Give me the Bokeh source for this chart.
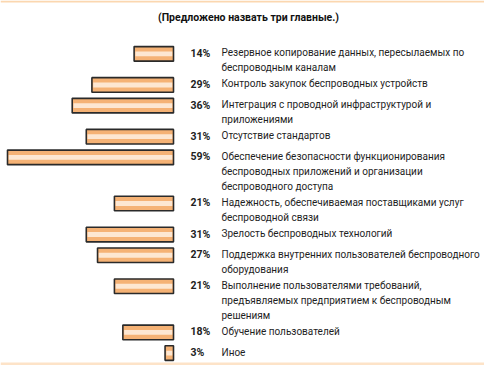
from bokeh.plotting import figure
from bokeh.models import Range1d, Label, ColumnDataSource, BoxAnnotation
from bokeh.core.properties import value
from bokeh.embed import file_html
from bokeh.resources import INLINE

title_text = "(Предложено назвать три главные.)"
labels = [
    "Резервное копирование данных, пересылаемых по\nбеспроводным каналам",
    "Контроль закупок беспроводных устройств",
    "Интеграция с проводной инфраструктурой и\nприложениями",
    "Отсутствие стандартов",
    "Обеспечение безопасности функционирования\nбеспроводных приложений и организации\nбеспроводного доступа",
    "Надежность, обеспечиваемая поставщиками услуг\nбеспроводной связи",
    "Зрелость беспроводных технологий",
    "Поддержка внутренних пользователей беспроводного\nоборудования",
    "Выполнение пользователями требований,\nпредъявляемых предприятием к беспроводным\nрешениям",
    "Обучение пользователей",
    "Иное",
]
values = [14, 29, 36, 31, 59, 21, 31, 27, 21, 18, 3]

W, H = 484, 365
FONT = "Roboto"
Y_SPAN = 376                      # layout units covered by the figure height
ROW_STEP = {1: 21.3, 2: 32.0, 3: 47.5}
BAR_END_PX = 173                  # screen x of the bars' common right edge
PX_PER_PCT = 166 / 59

# row layout
ys = []
y = 55.0
for lab in labels:
    ys.append(y)
    y += ROW_STEP[lab.count("\n") + 1]

src = ColumnDataSource(dict(
    y=ys,
    left=[-v for v in values],
    right=[0] * len(values),
    ileft=[-v + 0.45 for v in values],
    iright=[-0.45] * len(values),
    pct=[f"{v}%" for v in values],
    label=labels,
    zero=[0] * len(values),
))

p = figure(width=W, height=H, output_backend="svg", toolbar_location=None,
           x_range=Range1d(-BAR_END_PX / PX_PER_PCT, (W - BAR_END_PX) / PX_PER_PCT),
           y_range=Range1d(Y_SPAN, 0),
           min_border=0, outline_line_color=None)
p.axis.visible = False
p.grid.visible = False
p.background_fill_color = "white"
p.border_fill_color = "white"

# decorative top/bottom bands
p.add_layout(BoxAnnotation(top=0, bottom=2, fill_color="#fbd7b0", fill_alpha=1, line_color=None))
p.add_layout(BoxAnnotation(top=Y_SPAN - 3, bottom=Y_SPAN, fill_color="#fde3c8", fill_alpha=1, line_color=None))

p.hbar(y="y", left="left", right="right", height=15, source=src,
       fill_color="#f5b275", line_color="#2a2a2a", line_width=1.6)
p.hbar(y="y", left="ileft", right="iright", height=5, source=src,
       fill_color="#fde7d2", line_color=None)

p.text(x="zero", y="y", text="pct", source=src, x_offset=17, y_offset=-7,
       text_font=value(FONT), text_font_size="10.5px", text_font_style="bold",
       text_color="#222222", text_align="left", text_baseline="top")
p.text(x="zero", y="y", text="label", source=src, x_offset=48, y_offset=-6.5,
       text_font=value(FONT), text_font_size="10px", text_line_height=1.36,
       text_color="#1e1e1e", text_align="left", text_baseline="top")

p.add_layout(Label(x=248, y=18, x_units="screen", y_units="data", text=title_text,
                   text_font=FONT, text_font_size="10.5px", text_font_style="bold",
                   text_color="#111111", text_align="center", text_baseline="middle"))

open("out.html", "w").write(file_html(p, INLINE))
